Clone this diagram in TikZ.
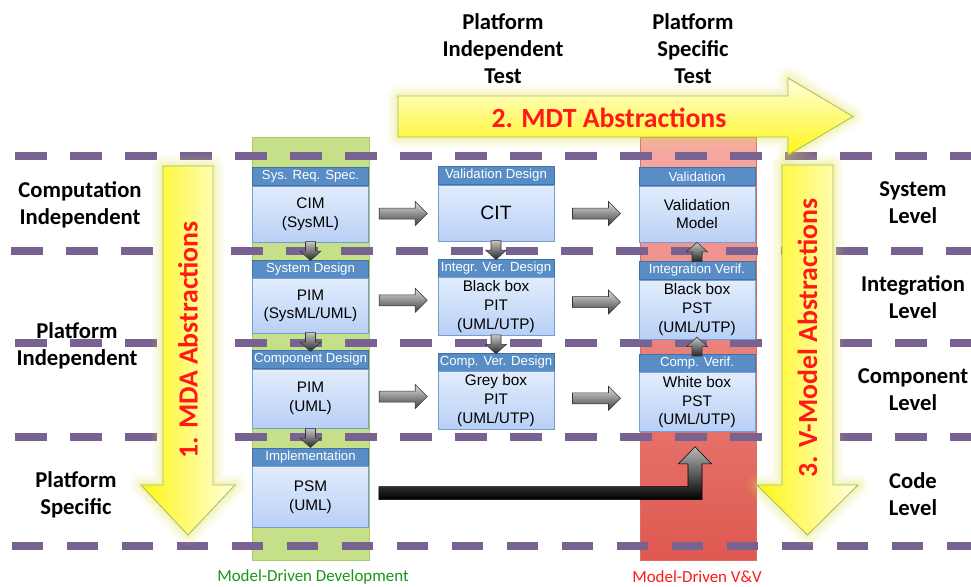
\documentclass[tikz,border=0pt]{standalone}
\usepackage{fontspec}
\setmainfont{Liberation Sans}
\newfontfamily\calibfont{Carlito}
\usetikzlibrary{calc}
\definecolor{dashc}{RGB}{120,98,145}
\definecolor{greenfill}{RGB}{198,224,138}
\definecolor{greenborder}{RGB}{168,204,108}
\definecolor{greentext}{RGB}{24,150,24}
\definecolor{redtop}{RGB}{246,170,163}
\definecolor{redbot}{RGB}{222,88,80}
\definecolor{redborder}{RGB}{220,110,95}
\definecolor{redtext}{RGB}{255,25,25}
\definecolor{hdrfill}{RGB}{88,141,197}
\definecolor{hdrborder}{RGB}{68,112,168}
\definecolor{bodtop}{RGB}{226,237,253}
\definecolor{bodbot}{RGB}{184,207,245}
\definecolor{bodborder}{RGB}{118,158,214}
\definecolor{ybright}{RGB}{255,246,20}
\definecolor{ypale}{RGB}{255,255,222}
\definecolor{yborder}{RGB}{168,188,84}
\definecolor{glowc}{RGB}{222,222,80}
\def\px{0.75pt}
\def\mdapath{(163,166) -- (213,166) -- (213,485) -- (235,485) -- (188,535) -- (141,485) -- (163,485) -- cycle}
\def\vmpath{(782,165) -- (833,165) -- (833,485) -- (858,485) -- (807.5,535) -- (757,485) -- (782,485) -- cycle}
\def\mdtpath{(398,96) -- (788,96) -- (788,78) -- (853,116.5) -- (788,155) -- (788,137) -- (398,137) -- cycle}
\begin{document}
\begin{tikzpicture}[x=0.75pt,y=-0.75pt,
  hdr/.style={draw=hdrborder, fill=hdrfill, text=white, font=\fontsize{9.9}{11}\selectfont,
    minimum width=116*\px, minimum height=18*\px, inner sep=0pt},
  bod/.style={draw=bodborder, top color=bodtop, bottom color=bodbot,
    font=\fontsize{11.5}{13.9}\selectfont, align=center, minimum width=116*\px,
    inner sep=0pt, anchor=north},
  greyarrow/.style={draw=black!80, top color=gray!25, bottom color=black!75, line join=miter},
  harrow/.pic={\path[greyarrow] (-24,-5.5) -- (12,-5.5) -- (12,-12) -- (24,0) -- (12,12) -- (12,5.5) -- (-24,5.5) -- cycle;},
  darrow/.pic={\path[greyarrow, top color=gray!45, bottom color=black!85] (-5,-9.5) -- (5,-9.5) -- (5,0) -- (10.5,0) -- (0,9.5) -- (-10.5,0) -- (-5,0) -- cycle;},
  uarrow/.pic={\path[greyarrow, top color=gray!45, bottom color=black!85] (-5,9.5) -- (5,9.5) -- (5,0) -- (10.5,0) -- (0,-9.5) -- (-10.5,0) -- (-5,0) -- cycle;},
  dline/.style={draw=dashc, line width=8*\px, dash pattern=on 31.7*\px off 23.3*\px},
  lbl/.style={font=\calibfont\bfseries\fontsize{17}{20.2}\selectfont, align=center},
  big/.style={font=\calibfont\bfseries\fontsize{20.8}{22}\selectfont, text=redtext},
  glow/.style={draw=glowc, line join=round},
  yarrow/.style={draw=yborder, line width=0.6pt}
]
\useasboundingbox (0,0) rectangle (971,586);
\begin{scope}
\clip (0,0) rectangle (971,586);
% columns
\fill[greenfill, draw=greenborder] (252,137) rectangle (369,560);
\shade[top color=redtop, bottom color=redbot, draw=redborder] (640,137) rectangle (756,560);
% dashed level lines
\draw[dline] (15,156) -- (980,156);
\draw[dline] (11,251) -- (980,251);
\draw[dline] (15,343) -- (980,343);
\draw[dline] (15,437) -- (980,437);
\draw[dline] (11.7,546) -- (980,546);
% yellow arrows with glow
\foreach \w/\o in {22/0.07,16/0.09,10/0.12,5/0.15}{
  \draw[glow, line width=\w*\px, opacity=\o] \mdapath;
  \draw[glow, line width=\w*\px, opacity=\o] \vmpath;
  \draw[glow, line width=\w*\px, opacity=\o] \mdtpath;
}
\draw[yarrow, left color=ybright, right color=ypale] \mdapath;
\draw[yarrow, left color=ybright, right color=ypale] \vmpath;
\draw[yarrow, top color=ypale, bottom color=ybright] \mdtpath;
\end{scope}
\node[big, rotate=90] (mda) at (188,340) {1. MDA Abstractions};
\node[big, rotate=90] (vmod) at (807.5,338) {3. V-Model Abstractions};
\node[big] (mdt) at (609,118) {2. MDT Abstractions};
% left column boxes
\node[hdr] (hA1) at (310.5,176.5) {Sys. Req. Spec.};
\node[bod, minimum height=56*\px] (bA1) at (hA1.south) {CIM\\(SysML)};
\node[hdr] (hA2) at (310.5,269) {System Design};
\node[bod, minimum height=55*\px] (bA2) at (hA2.south) {PIM\\(SysML/UML)};
\node[hdr] (hA3) at (310.5,359.5) {Component Design};
\node[bod, minimum height=59*\px] (bA3) at (hA3.south) {PIM\\(UML)};
\node[hdr] (hA4) at (310.5,457) {Implementation};
\node[bod, minimum height=61*\px] (bA4) at (hA4.south) {PSM\\(UML)};
% middle column boxes
\node[hdr] (hB1) at (496,175.5) {Validation Design};
\node[bod, minimum height=56*\px, font=\fontsize{14.5}{16}\selectfont] (bB1) at (hB1.south) {CIT};
\node[hdr] (hB2) at (496,268) {Integr. Ver. Design};
\node[bod, minimum height=58*\px] (bB2) at (hB2.south) {Black box\\PIT\\(UML/UTP)};
\node[hdr] (hB3) at (496,362) {Comp. Ver. Design};
\node[bod, minimum height=58*\px] (bB3) at (hB3.south) {Grey box\\PIT\\(UML/UTP)};
% right column boxes
\node[hdr] (hC1) at (697,176.5) {Validation};
\node[bod, minimum height=56*\px] (bC1) at (hC1.south) {Validation\\Model};
\node[hdr] (hC2) at (697,270.5) {Integration Verif.};
\node[bod, minimum height=59*\px] (bC2) at (hC2.south) {Black box\\PST\\(UML/UTP)};
\node[hdr] (hC3) at (697,363) {Comp. Verif.};
\node[bod, minimum height=59*\px] (bC3) at (hC3.south) {White box\\PST\\(UML/UTP)};
% horizontal grey arrows
\pic at ($(bA1.east)!0.5!(bB1.west)$) {harrow};
\pic at ($(bB1.east)!0.5!(bC1.west)$) {harrow};
\pic at ($($(bA2.east)!0.5!(bB2.west)$)+(0,-6)$) {harrow};
\pic at ($($(bB2.east)!0.5!(bC2.west)$)+(0,-6)$) {harrow};
\pic at ($($(bA3.east)!0.5!(bB3.west)$)+(0,-3)$) {harrow};
\pic at ($($(bB3.east)!0.5!(bC3.west)$)+(0,-3)$) {harrow};
% vertical grey arrows
\pic at ($(bA1.south)!0.5!(hA2.north)$) {darrow};
\pic at ($(bA2.south)!0.5!(hA3.north)$) {darrow};
\pic at ($(bA3.south)!0.5!(hA4.north)$) {darrow};
\pic at ($(bB1.south)!0.5!(hB2.north)$) {darrow};
\pic at ($(bB2.south)!0.5!(hB3.north)$) {darrow};
\pic at ($(hC2.north)!0.5!(bC1.south)$) {uarrow};
\pic at ($(hC3.north)!0.5!(bC2.south)$) {uarrow};
% big black arrow PSM -> white box PST
\coordinate (bs) at ($(bA4.east)+(10,-4)$);
\coordinate (bt) at ($(bC3.south)+(-2,15)$);
\draw[draw=black, top color=gray!55, bottom color=black, line join=miter]
  let \p1=(bs), \p2=(bt) in
  (\x1,\y1+4.875pt) -- (\x2-5.25pt,\y1+4.875pt) -- (\x2-5.25pt,\y2-12.75pt)
  -- (\x2-12.375pt,\y2-12.75pt) -- (\x2,\y2) -- (\x2+12.375pt,\y2-12.75pt)
  -- (\x2+5.25pt,\y2-12.75pt) -- (\x2+5.25pt,\y1-4.875pt) -- (\x1,\y1-4.875pt) -- cycle;
% side labels
\node[lbl] (lci) at (80,205) {Computation\\Independent};
\node[lbl] (lpi) at (77,346) {Platform\\Independent};
\node[lbl] (lps) at (76,495) {Platform\\Specific};
\node[lbl] (lsl) at (913,203) {System\\Level};
\node[lbl] (lil) at (913,297) {Integration\\Level};
\node[lbl] (lcl) at (913,390) {Component\\Level};
\node[lbl] (lcd) at (913,494) {Code\\Level};
\node[lbl] (tpi) at (503,49) {Platform\\Independent\\Test};
\node[lbl] (tps) at (693,49) {Platform\\Specific\\Test};
% column labels
\node[font=\calibfont\fontsize{12.7}{14}\selectfont, text=greentext] (mdd) at (313,577) {Model-Driven Development};
\node[font=\calibfont\fontsize{12.7}{14}\selectfont, text=redtext] (mdv) at (697,577) {Model-Driven V\&V};
\end{tikzpicture}
\end{document}
